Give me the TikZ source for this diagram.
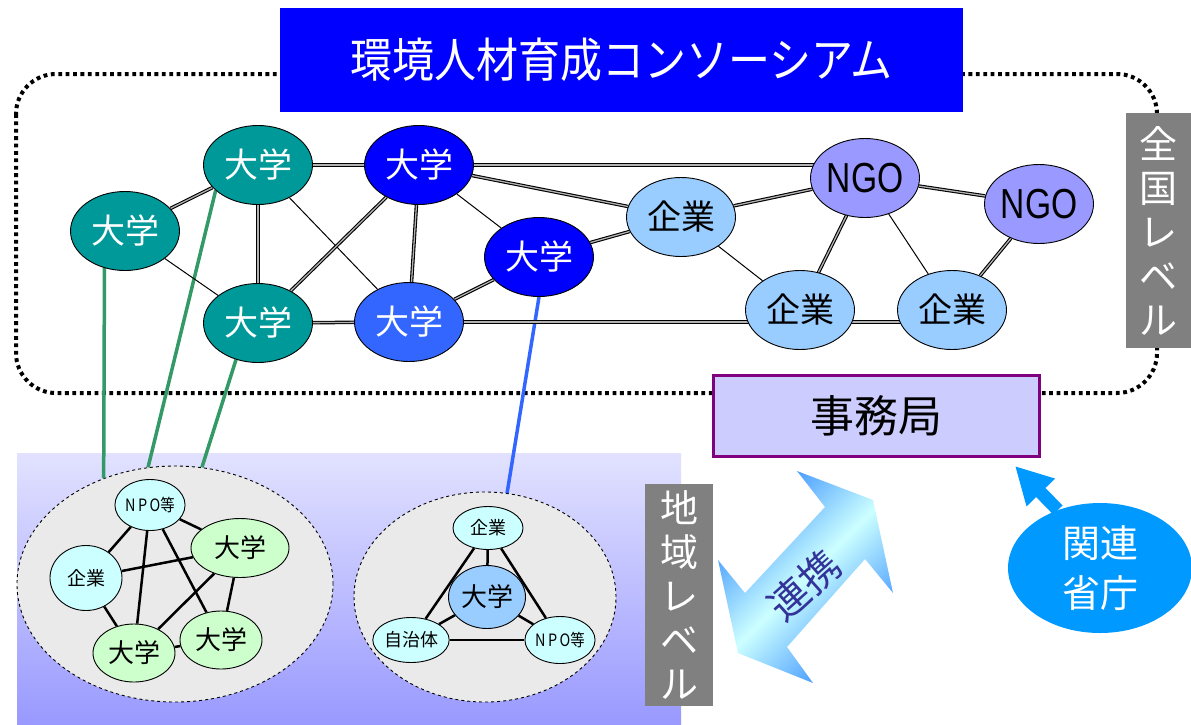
\documentclass[tikz,border=0pt]{standalone}
\usepackage{fontspec}
\setmainfont{Noto Sans CJK JP}
\newfontfamily\arialf{Liberation Sans}
\usetikzlibrary{shapes.geometric,backgrounds,arrows.meta}
\pgfdeclarelayer{lower}
\pgfsetlayers{background,lower,main}
\definecolor{cteal}{RGB}{0,153,153}
\definecolor{cblue}{RGB}{0,0,255}
\definecolor{cmid}{RGB}{51,102,255}
\definecolor{ccorp}{RGB}{153,204,255}
\definecolor{cngo}{RGB}{153,153,255}
\definecolor{cglink}{RGB}{51,153,102}
\definecolor{clcyan}{RGB}{204,255,255}
\definecolor{clgreen}{RGB}{204,255,204}
\definecolor{cgr}{RGB}{234,234,234}
\definecolor{cjimu}{RGB}{204,204,255}
\definecolor{cpurp}{RGB}{128,0,128}
\definecolor{ckan}{RGB}{0,153,255}
\definecolor{cren}{RGB}{51,51,153}
\definecolor{cgray}{RGB}{128,128,128}
\definecolor{cregtop}{RGB}{226,226,255}
\definecolor{cregbot}{RGB}{153,153,255}
\definecolor{cshade}{RGB}{51,140,255}
\begin{document}
\begin{tikzpicture}[x=1pt,y=-1pt,
  tnode/.style={ellipse, draw=black, line width=0.9pt, inner sep=0pt,
    minimum width=109pt, minimum height=79pt, font=\fontsize{34}{34}\selectfont},
  uni/.style={tnode, text=white},
  corp/.style={tnode, fill=ccorp, text=black},
  ngo/.style={tnode, fill=cngo, text=black, font=\arialf\fontsize{42}{42}\selectfont},
  dbl/.style={draw=black, line width=1.1pt, double=black!30, double distance=1.3pt},
  sgl/.style={draw=black, line width=1pt},
  snode/.style={ellipse, draw=black, line width=0.9pt, inner sep=0pt},
  sedge/.style={draw=black, line width=2.5pt},
  glink/.style={draw=cglink, line width=3.5pt},
  vtext/.style={fill=cgray, text=white, align=center, inner sep=0pt,
    font=\fontsize{38}{44}\selectfont},
  cluster/.style={ellipse, draw=black, dashed, line width=0.9pt, fill=cgr, inner sep=0pt},
]
\useasboundingbox (0,0) rectangle (1191,724);

% top nodes
\node[uni, fill=cteal] (A) at (125,231) {大学};
\node[uni, fill=cteal] (B) at (258,165) {大学};
\node[uni, fill=cblue] (C) at (419,165) {大学};
\node[uni, fill=cblue] (D) at (539,257) {大学};
\node[uni, fill=cteal] (E) at (258,323) {大学};
\node[uni, fill=cmid] (F) at (409,322) {大学};
\node[corp] (G) at (681,217) {企業};
\node[ngo] (H) at (865,178) {\scalebox{0.8}[1]{NGO}};
\node[ngo] (I) at (1039,204) {\scalebox{0.8}[1]{NGO}};
\node[corp] (J) at (800,310) {企業};
\node[corp] (K) at (952,310) {企業};

% small nodes of the regional clusters
\node[snode, fill=clcyan, minimum width=70pt, minimum height=51pt, font=\fontsize{17}{17}\selectfont] (LN) at (150,505) {\scalebox{0.85}[1]{N\,P\,O等}};
\node[snode, fill=clcyan, minimum width=72pt, minimum height=65pt, font=\fontsize{19}{19}\selectfont] (LK) at (86,578) {企業};
\node[snode, fill=clgreen, minimum width=98pt, minimum height=59pt, font=\fontsize{26}{26}\selectfont] (LU1) at (240,548) {大学};
\node[snode, fill=clgreen, minimum width=82pt, minimum height=58pt, font=\fontsize{26}{26}\selectfont] (LU2) at (134,653) {大学};
\node[snode, fill=clgreen, minimum width=82pt, minimum height=58pt, font=\fontsize{26}{26}\selectfont] (LU3) at (221,640) {大学};

\node[snode, fill=clcyan, minimum width=70pt, minimum height=43pt, font=\fontsize{18}{18}\selectfont] (RK) at (488,528) {企業};
\node[snode, fill=ccorp, minimum width=77pt, minimum height=63pt, font=\fontsize{26}{26}\selectfont] (RU) at (487,597) {大学};
\node[snode, fill=clcyan, minimum width=64pt, minimum height=45pt, font=\fontsize{18}{18}\selectfont] (RJ) at (411,640) {自治体};
\node[snode, fill=clcyan, minimum width=67pt, minimum height=47pt, font=\fontsize{17}{17}\selectfont] (RN) at (560,640) {\scalebox{0.85}[1]{N\,P\,O等}};

% labels and boxes
\node[fill=cblue, text=white, minimum width=683pt, minimum height=104pt, inner sep=0pt,
  font=\fontsize{42}{42}\selectfont] (T) at (621.5,60) {\scalebox{1}[1.12]{環境人材育成コンソーシアム}};
\node[vtext, minimum width=65pt, minimum height=235pt] (Z) at (1158.5,230.5) {全\\国\\レ\\ベ\\ル};
\node[vtext, minimum width=68pt, minimum height=222pt] (CH) at (679,595) {地\\域\\レ\\ベ\\ル};
\node[draw=cpurp, line width=3pt, fill=cjimu, minimum width=326pt, minimum height=81pt, inner sep=0pt,
  font=\fontsize{44}{44}\selectfont] (S) at (876.5,416) {事務局};
\node[ellipse, fill=ckan, text=white, align=center, minimum width=184pt, minimum height=130pt, inner sep=0pt,
  font=\fontsize{38}{50}\selectfont] (KS) at (1100,568) {関連\\省庁};

% renkei arrow
\shade[top color=cshade, bottom color=cshade, middle color=clcyan, shading angle=45]
  (797,471) -- (873,500) -- (893,593) -- (865,559) -- (787,647) -- (813,683)
  -- (738,653) -- (718,560) -- (745,593) -- (825,507) -- cycle;
\node[rotate=42, text=cren, font=\fontsize{40}{40}\selectfont] (RT) at (804,585) {連携};

% kanren arrow
\coordinate (tip) at (1015,466);
\draw[ckan, line width=13pt, -{Triangle[width=37pt,length=37pt]}] (KS.126) -- (tip);

\begin{pgfonlayer}{background}
  \shade[top color=cregtop, bottom color=cregbot] (17,453) rectangle (681,724);
  \draw[line width=4pt, dash pattern=on 3.8pt off 3.6pt, rounded corners=40pt] (16,74) rectangle (1157,393);
  \node[cluster, minimum width=316pt, minimum height=236pt] (L) at (175,584) {};
  \node[cluster, minimum width=262pt, minimum height=210pt] (R) at (485,597) {};
  % colored links
  \draw[glink] (A.241.7) -- (L.124.1);
  \draw[glink] (B.211) -- (L.103.5);
  \draw[glink] (E.239.5) -- (L.77);
  \draw[draw=cmid, line width=3.5pt] (D.south) -- (R.78.2);
  % top edges
  \draw[dbl] (A) -- (B);
  \draw[sgl] (A) -- (E);
  \draw[dbl] (B) -- (C);
  \draw[dbl] (B) -- (E);
  \draw[sgl] (B) -- (F);
  \draw[dbl] (C) -- (E);
  \draw[dbl] (C) -- (F);
  \draw[sgl] (C) -- (D);
  \draw[dbl] (C) -- (C -| H);
  \draw[dbl] (C) -- (G);
  \draw[dbl] (D) -- (G);
  \draw[dbl] (D) -- (F);
  \draw[dbl] (E) -- (F);
  \draw[dbl] (F) -- (F -| K);
  \draw[dbl] (G) -- (H);
  \draw[sgl] (G) -- (J);
  \draw[dbl] (H) -- (J);
  \draw[sgl] (H) -- (K);
  \draw[dbl] (H) -- (I);
  \draw[dbl] (I) -- (K);
\end{pgfonlayer}
\begin{pgfonlayer}{lower}
  \draw[sedge] (LN) -- (LK);
  \draw[sedge] (LN) -- (LU1);
  \draw[sedge] (LN) -- (LU2);
  \draw[sedge] (LN) -- (LU3);
  \draw[sedge] (LK) -- (LU1);
  \draw[sedge] (LK) -- (LU2);
  \draw[sedge] (LU1) -- (LU2);
  \draw[sedge] (LU1) -- (LU3);
  \draw[sedge] (LU2) -- (LU3);
  \draw[sedge] (RK) -- (RU);
  \draw[sedge] (RK) -- (RJ);
  \draw[sedge] (RK) -- (RN);
  \draw[sedge] (RU) -- (RJ);
  \draw[sedge] (RU) -- (RN);
  \draw[sedge] (RJ) -- (RN);
\end{pgfonlayer}
\end{tikzpicture}
\end{document}
